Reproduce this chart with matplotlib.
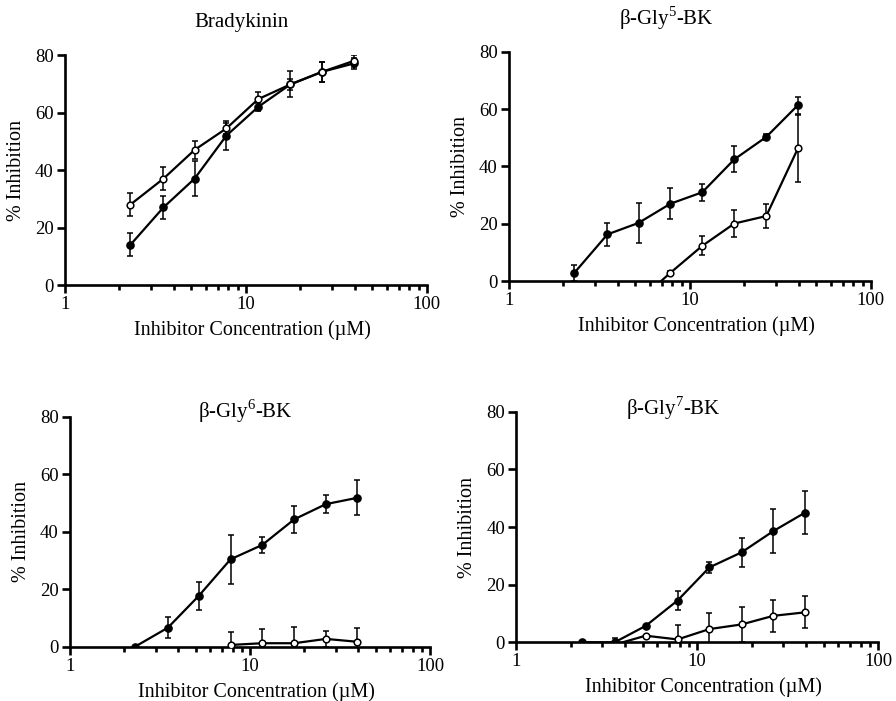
import matplotlib
matplotlib.use("Agg")
import matplotlib.pyplot as plt
from matplotlib.ticker import LogLocator, NullFormatter, FixedLocator

plt.rcParams['font.family'] = ['Liberation Serif', 'DejaVu Serif']
plt.rcParams['mathtext.fontset'] = 'custom'
plt.rcParams['mathtext.rm'] = 'Liberation Serif'

conc = [2.3, 3.5, 5.2, 7.8, 11.7, 17.6, 26.4, 39.5]

# Bradykinin
bk_fill = [14, 27, 37, 52, 62, 69.8, 74.2, 77.1]
bk_fill_err = [4, 4, 6, 5, 1.5, 2, 3.5, 2]
bk_open = [28, 37, 47, 54.5, 64.7, 69.8, 74.2, 78]
bk_open_err = [4, 4, 3, 2, 2.5, 4.5, 3.5, 2]

# b-Gly5-BK
g5_fill = [2.9, 16.3, 20.3, 27, 31, 42.5, 50.3, 61.4]
g5_fill_err = [2.8, 4, 7, 5.5, 3, 4.5, 1, 3]
g5_open_conc = [5.2, 7.8, 11.7, 17.6, 26.4, 39.5]
g5_open = [-7, 2.9, 12.3, 20.1, 22.7, 46.3]
g5_open_err = [0, 0.5, 3.3, 4.8, 4.3, 11.7]

# b-Gly6-BK
g6_fill = [0, 6.6, 17.7, 30.4, 35.4, 44.3, 49.6, 51.8]
g6_fill_err = [0, 3.7, 4.8, 8.5, 2.8, 4.8, 3.2, 6.1]
g6_open_conc = [7.8, 11.7, 17.6, 26.4, 39.5]
g6_open = [0.6, 1.2, 1.2, 2.7, 1.7]
g6_open_err = [4.4, 4.8, 5.8, 2.8, 4.8]

# b-Gly7-BK
g7_fill = [0, 0, 5.7, 14.5, 26, 31.2, 38.6, 45]
g7_fill_err = [0, 1.5, 0, 3.3, 2, 5, 7.5, 7.5]
g7_open_conc = [3.5, 5.2, 7.8, 11.7, 17.6, 26.4, 39.5]
g7_open = [-0.8, 2.3, 1.0, 4.6, 6.2, 9.2, 10.4]
g7_open_err = [0, 0, 5, 5.7, 6.2, 5.6, 5.6]

panels = [
    ("Bradykinin", conc, bk_fill, bk_fill_err, conc, bk_open, bk_open_err,
     [0.0725, 0.5934, 0.404, 0.328], (0.488, 1.143)),
    ("β-Gly$^{5}$-BK", conc, g5_fill, g5_fill_err, g5_open_conc, g5_open, g5_open_err,
     [0.568, 0.599, 0.404, 0.327], (0.434, 1.147)),
    ("β-Gly$^{6}$-BK", conc, g6_fill, g6_fill_err, g6_open_conc, g6_open, g6_open_err,
     [0.078, 0.0775, 0.402, 0.328], (0.486, 1.025)),
    ("β-Gly$^{7}$-BK", conc, g7_fill, g7_fill_err, g7_open_conc, g7_open, g7_open_err,
     [0.576, 0.0837, 0.404, 0.329], (0.434, 1.016)),
]

fig = plt.figure(figsize=(8.96, 7.01), dpi=100)

for title, xf, yf, ef, xo, yo, eo, pos, tpos in panels:
    ax = fig.add_axes(pos)
    ax.errorbar(xf, yf, yerr=ef, color='black', lw=1.6, elinewidth=1.1,
                capsize=2.4, capthick=1.1, marker='o', ms=5.2, mfc='black',
                mec='black', zorder=3)
    ax.errorbar(xo, yo, yerr=eo, color='black', lw=1.6, elinewidth=1.1,
                capsize=2.4, capthick=1.1, marker='o', ms=4.8, mfc='white',
                mec='black', mew=1.1, zorder=4)
    ax.set_xscale('log')
    ax.set_xlim(1, 100)
    ax.set_ylim(0, 80)
    ax.set_yticks([0, 20, 40, 60, 80])
    ax.xaxis.set_major_locator(FixedLocator([1, 10, 100]))
    ax.set_xticklabels(['1', '10', '100'])
    ax.xaxis.set_minor_locator(LogLocator(base=10, subs=range(2, 10)))
    ax.xaxis.set_minor_formatter(NullFormatter())
    for s in ['top', 'right']:
        ax.spines[s].set_visible(False)
    for s in ['left', 'bottom']:
        ax.spines[s].set_linewidth(1.9)
    ax.tick_params(axis='both', which='major', direction='out', length=6,
                   width=1.9, labelsize=13.5, pad=2)
    ax.tick_params(axis='x', which='minor', direction='out', length=3.5, width=1.9)
    ax.text(tpos[0], tpos[1], title, transform=ax.transAxes, ha='center',
            va='center', fontsize=15)
    ax.text(0.517, -0.196, "Inhibitor Concentration (µM)", transform=ax.transAxes,
            ha='center', va='center', fontsize=14.5)
    ax.text(-0.133, 0.5, "% Inhibition", transform=ax.transAxes, rotation=90,
            ha='center', va='center', fontsize=14.5)

fig.savefig("out.png", dpi=100)
